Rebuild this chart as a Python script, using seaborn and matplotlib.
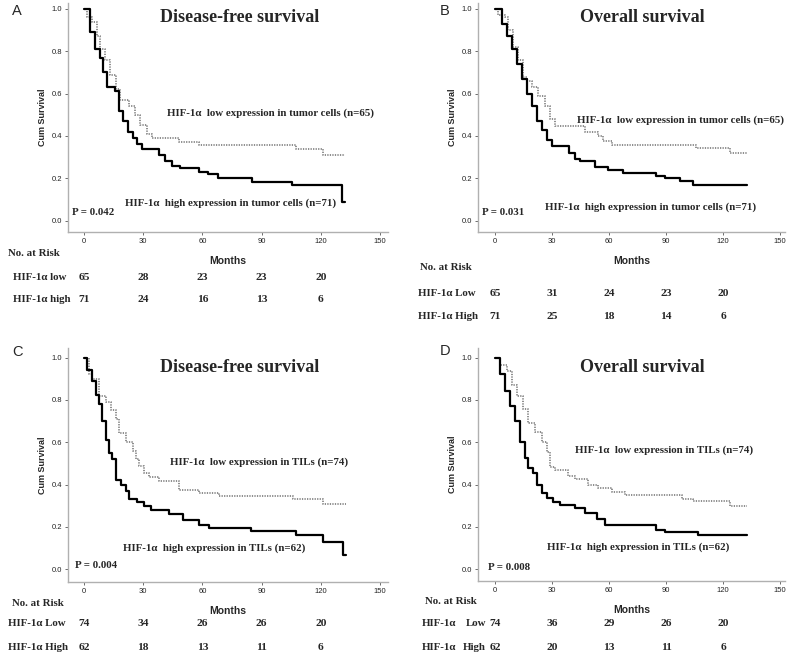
import numpy as np
import pandas as pd
import matplotlib
matplotlib.use("Agg")
import matplotlib.pyplot as plt
import matplotlib.transforms as mtransforms
import seaborn as sns

sns.set_theme(style="white")
plt.rcParams['font.family'] = ['Liberation Sans', 'DejaVu Sans']

# --- survival step data (months, cum survival) ---
a_high_t = [0, 3, 5.6, 8.1, 9.8, 11.5, 15.8, 17.5, 20, 22.5, 25, 26.8, 29.3, 37.8, 41.2, 44.6, 48.8, 58.1, 63, 68, 85, 105.6, 131, 132.5]
a_high_s = [1.0, 0.89, 0.81, 0.77, 0.70, 0.63, 0.61, 0.52, 0.47, 0.42, 0.39, 0.36, 0.34, 0.31, 0.28, 0.26, 0.25, 0.23, 0.22, 0.20, 0.18, 0.17, 0.09, 0.09]
a_low_t = [0, 1.4, 4, 6.6, 8.3, 10.8, 13.4, 16, 18.5, 22.7, 26.1, 28.6, 32, 34.5, 48, 58.2, 107.4, 121, 132.5]
a_low_s = [1.0, 0.96, 0.94, 0.87, 0.81, 0.76, 0.69, 0.62, 0.57, 0.54, 0.50, 0.45, 0.41, 0.39, 0.373, 0.355, 0.34, 0.31, 0.31]

b_high_t = [0, 3.5, 6.1, 8.8, 11.4, 14, 16.7, 19.3, 21.9, 24.6, 27.2, 29.8, 39, 42.1, 44.7, 52.6, 59.6, 67.5, 85, 89.5, 97.4, 104.4, 132.5]
b_high_s = [1.0, 0.93, 0.87, 0.81, 0.74, 0.67, 0.60, 0.54, 0.47, 0.43, 0.38, 0.35, 0.32, 0.29, 0.28, 0.255, 0.24, 0.226, 0.21, 0.20, 0.185, 0.17, 0.17]
b_low_t = [0, 1.8, 5.3, 7, 9.6, 12.3, 14.9, 16.7, 19.3, 22.8, 26.3, 28.9, 31.6, 47.4, 54.4, 57, 61.4, 106, 123.7, 132.5]
b_low_s = [1.0, 0.97, 0.96, 0.90, 0.82, 0.76, 0.68, 0.66, 0.63, 0.59, 0.54, 0.48, 0.447, 0.42, 0.40, 0.375, 0.355, 0.342, 0.32, 0.32]

c_high_t = [0, 1.7, 4.2, 5.9, 7.6, 9.3, 11, 12.7, 14.4, 16.1, 18.6, 21.2, 22.9, 27.1, 30.5, 33.9, 43.2, 50, 58.5, 63.6, 84.8, 107.7, 121.3, 131.5, 133]
c_high_s = [1.0, 0.94, 0.89, 0.825, 0.78, 0.70, 0.61, 0.55, 0.52, 0.42, 0.40, 0.37, 0.33, 0.32, 0.30, 0.28, 0.26, 0.235, 0.21, 0.195, 0.18, 0.16, 0.13, 0.068, 0.068]
c_low_t = [0, 2.5, 4.2, 7.6, 11, 13.6, 16.1, 17.8, 21.2, 24.6, 26.3, 28, 30.5, 33, 38.1, 48.3, 58.5, 68.6, 106, 121.3, 133]
c_low_s = [1.0, 0.92, 0.90, 0.82, 0.79, 0.75, 0.71, 0.645, 0.60, 0.56, 0.52, 0.49, 0.455, 0.435, 0.415, 0.375, 0.36, 0.345, 0.33, 0.31, 0.31]

d_high_t = [0, 2.6, 5.3, 7.9, 10.5, 13.2, 15.8, 17.5, 20.2, 21.9, 24.6, 27.2, 30.7, 34.2, 42.1, 47.4, 53.5, 57.9, 85, 89.5, 107, 132.5]
d_high_s = [1.0, 0.92, 0.84, 0.77, 0.70, 0.60, 0.525, 0.48, 0.455, 0.40, 0.36, 0.335, 0.32, 0.305, 0.29, 0.265, 0.24, 0.21, 0.186, 0.175, 0.16, 0.16]
d_low_t = [0, 2.6, 6.1, 8.8, 11.4, 14.9, 17.5, 21, 24.6, 27.2, 29, 31.6, 38.6, 42.1, 49.1, 54.4, 61.4, 68.4, 98.2, 104.4, 123.7, 132.5]
d_low_s = [1.0, 0.967, 0.935, 0.87, 0.82, 0.755, 0.69, 0.65, 0.60, 0.555, 0.485, 0.47, 0.44, 0.425, 0.40, 0.385, 0.367, 0.35, 0.333, 0.325, 0.30, 0.30]

risk_months = [0, 30, 60, 90, 120]
a_risk_low = [65, 28, 23, 23, 20]
a_risk_high = [71, 24, 16, 13, 6]
b_risk_low = [65, 31, 24, 23, 20]
b_risk_high = [71, 25, 18, 14, 6]
c_risk_low = [74, 34, 26, 26, 20]
c_risk_high = [62, 18, 13, 11, 6]
d_risk_low = [74, 36, 29, 26, 20]
d_risk_high = [62, 20, 13, 11, 6]

W, H = 800, 660
SERIF = 'Liberation Serif'
fig = plt.figure(figsize=(8, 6.6), dpi=100)


def fx(px):
    return px / W


def fy(py):
    return 1 - py / H


def txt(x, y, s, **kw):
    fig.text(fx(x), fy(y), s, va='center', **kw)


def km_panel(box, xlim, ylim, hi_t, hi_s, lo_t, lo_s):
    left, top, right, bottom = box
    ax = fig.add_axes([fx(left), fy(bottom), fx(right - left), (bottom - top) / H])
    df = pd.concat([
        pd.DataFrame({'Months': lo_t, 'Surv': lo_s, 'grp': 'low'}),
        pd.DataFrame({'Months': hi_t, 'Surv': hi_s, 'grp': 'high'}),
    ])
    sns.lineplot(data=df[df.grp == 'low'], x='Months', y='Surv', ax=ax, color='#858585',
                 lw=1.3, ls=(0, (0.7, 0.7)), drawstyle='steps-post', estimator=None, sort=False)
    sns.lineplot(data=df[df.grp == 'high'], x='Months', y='Surv', ax=ax, color='black',
                 lw=1.6, drawstyle='steps-post', estimator=None, sort=False)
    ax.set_xlim(*xlim)
    ax.set_ylim(*ylim)
    ax.set_xticks([0, 30, 60, 90, 120, 150])
    ax.set_yticks([0.0, 0.2, 0.4, 0.6, 0.8, 1.0])
    ax.set_yticklabels(['0.0', '0.2', '0.4', '0.6', '0.8', '1.0'])
    ax.tick_params(axis='both', labelsize=5.5, length=2.5, width=0.6, pad=2,
                   colors='#555555', labelcolor='#222222', direction='out')
    ax.tick_params(axis='both', which='both', bottom=True, left=True)
    for s in ['top', 'right']:
        ax.spines[s].set_visible(False)
    for s in ['left', 'bottom']:
        ax.spines[s].set_color('#b0b0b0')
        ax.spines[s].set_linewidth(1.0)
    ax.set_xlabel('Months', fontsize=7.5, fontweight='bold', labelpad=8)
    ax.set_ylabel('Cum Survival', fontsize=6.5, fontweight='bold', labelpad=3)
    ax.patch.set_alpha(0)
    return ax


def risk_table(ax, y_rows, low, high):
    tr = mtransforms.blended_transform_factory(ax.transData, fig.transFigure)
    for yy, vals in zip(y_rows, [low, high]):
        for m, v in zip(risk_months, vals):
            ax.text(m, fy(yy), str(v), transform=tr, ha='center', va='center',
                    fontsize=8.2, fontweight='bold', family=SERIF, clip_on=False)


serif_kw = dict(family=SERIF, fontweight='bold')
TS = 13          # title size
AS = 7.8         # annotation size
RS = 7.8         # risk table label size

# Panel A
axA = km_panel((68, 3, 388, 232), (-8.1, 154.1), (-0.054, 1.028), a_high_t, a_high_s, a_low_t, a_low_s)
txt(12, 11, 'A', fontsize=10.5)
txt(240, 18, 'Disease-free survival', ha='center', fontsize=TS, **serif_kw)
txt(167, 113, 'HIF-1\u03b1  low expression in tumor cells (n=65)', fontsize=AS, **serif_kw)
txt(125, 203, 'HIF-1\u03b1  high expression in tumor cells (n=71)', fontsize=AS, **serif_kw)
txt(72, 212, 'P = 0.042', fontsize=AS, **serif_kw)
txt(8, 253, 'No. at Risk', fontsize=RS, **serif_kw)
txt(13, 277, 'HIF-1\u03b1 low', fontsize=RS, **serif_kw)
txt(13, 299, 'HIF-1\u03b1 high', fontsize=RS, **serif_kw)
risk_table(axA, [277, 299], a_risk_low, a_risk_high)

# Panel B
axB = km_panel((478, 3, 785, 232), (-8.9, 152.6), (-0.054, 1.028), b_high_t, b_high_s, b_low_t, b_low_s)
txt(440, 11, 'B', fontsize=10.5)
txt(642, 17, 'Overall survival', ha='center', fontsize=TS, **serif_kw)
txt(577, 120, 'HIF-1\u03b1  low expression in tumor cells (n=65)', fontsize=AS, **serif_kw)
txt(545, 207, 'HIF-1\u03b1  high expression in tumor cells (n=71)', fontsize=AS, **serif_kw)
txt(482, 212, 'P = 0.031', fontsize=AS, **serif_kw)
txt(420, 268, 'No. at Risk', fontsize=RS, **serif_kw)
txt(418, 293, 'HIF-1\u03b1 Low', fontsize=RS, **serif_kw)
txt(418, 317, 'HIF-1\u03b1 High', fontsize=RS, **serif_kw)
risk_table(axB, [293, 317], b_risk_low, b_risk_high)

# Panel C
axC = km_panel((68, 348, 388, 582), (-8.1, 154.1), (-0.06, 1.045), c_high_t, c_high_s, c_low_t, c_low_s)
txt(12, 352, 'C', fontsize=10.5)
txt(240, 367, 'Disease-free survival', ha='center', fontsize=TS, **serif_kw)
txt(170, 462, 'HIF-1\u03b1  low expression in TILs (n=74)', fontsize=AS, **serif_kw)
txt(123, 548, 'HIF-1\u03b1  high expression in TILs (n=62)', fontsize=AS, **serif_kw)
txt(75, 565, 'P = 0.004', fontsize=AS, **serif_kw)
txt(12, 603, 'No. at Risk', fontsize=RS, **serif_kw)
txt(8, 623, 'HIF-1\u03b1 Low', fontsize=RS, **serif_kw)
txt(8, 647, 'HIF-1\u03b1 High', fontsize=RS, **serif_kw)
risk_table(axC, [623, 647], c_risk_low, c_risk_high)

# Panel D
axD = km_panel((478, 348, 785, 581), (-8.9, 152.6), (-0.055, 1.045), d_high_t, d_high_s, d_low_t, d_low_s)
txt(440, 351, 'D', fontsize=10.5)
txt(642, 367, 'Overall survival', ha='center', fontsize=TS, **serif_kw)
txt(575, 450, 'HIF-1\u03b1  low expression in TILs (n=74)', fontsize=AS, **serif_kw)
txt(547, 547, 'HIF-1\u03b1  high expression in TILs (n=62)', fontsize=AS, **serif_kw)
txt(488, 568, 'P = 0.008', fontsize=AS, **serif_kw)
txt(425, 602, 'No. at Risk', fontsize=RS, **serif_kw)
txt(422, 623, 'HIF-1\u03b1', fontsize=RS, **serif_kw)
txt(466, 623, 'Low', fontsize=RS, **serif_kw)
txt(422, 647, 'HIF-1\u03b1', fontsize=RS, **serif_kw)
txt(463, 647, 'High', fontsize=RS, **serif_kw)
risk_table(axD, [623, 647], d_risk_low, d_risk_high)

fig.savefig('out.png', dpi=100, facecolor='white')
